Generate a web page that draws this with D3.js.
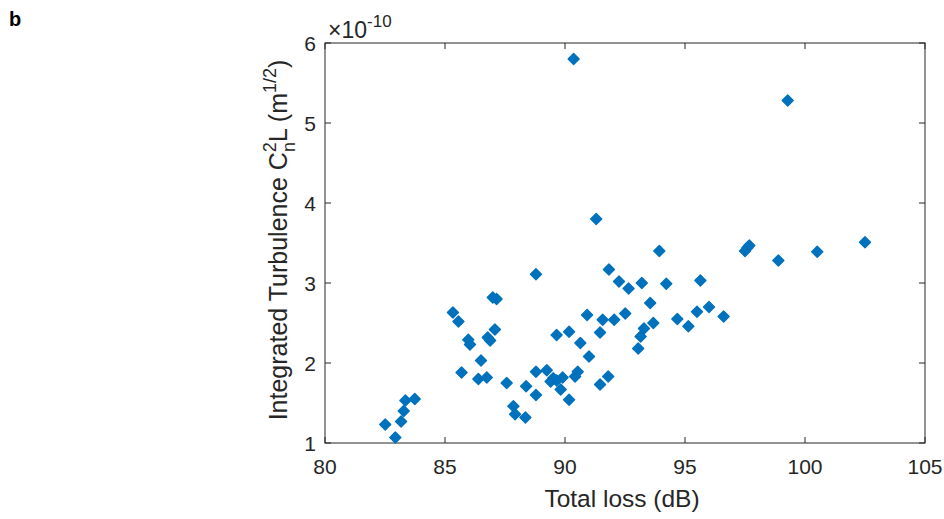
<!DOCTYPE html>
<html>
<head>
<meta charset="utf-8">
<script src="https://cdn.jsdelivr.net/npm/d3@7"></script>
<style>
  body { margin: 0; background: #fff; }
  svg { display: block; font-family: "Liberation Sans", Arial, sans-serif; }
</style>
</head>
<body>
<svg id="chart" width="944" height="519"></svg>
<script>
// total loss (dB) and integrated turbulence (units of 1e-10 m^1/2)
const totalLoss = [
  82.51, 82.93, 83.17, 83.28, 83.35, 83.74, 85.33, 85.56, 85.69, 85.97,
  86.04, 86.39, 86.50, 86.74, 86.78, 86.88, 86.99, 87.15, 87.08, 87.57,
  87.85, 87.92, 88.35, 88.38, 88.79, 88.79, 88.79, 89.24, 89.40, 89.51,
  89.65, 89.90, 89.82, 89.65, 90.17, 90.17, 90.42, 90.53, 90.36, 90.64,
  90.92, 91.00, 91.46, 91.46, 91.80, 91.57, 91.83, 92.05, 92.25, 91.30,
  92.51, 92.65, 93.05, 93.15, 93.29, 93.20, 93.55, 93.68, 93.93, 94.22,
  94.68, 95.14, 95.50, 95.64, 96.00, 96.61, 97.50, 97.60, 97.68, 98.89,
  99.28, 100.51, 102.50
]
const turbulence = [
  1.23, 1.07, 1.27, 1.40, 1.53, 1.55, 2.63, 2.52, 1.88, 2.29,
  2.23, 1.80, 2.03, 1.82, 2.32, 2.28, 2.82, 2.80, 2.42, 1.75,
  1.46, 1.36, 1.32, 1.71, 3.11, 1.89, 1.60, 1.91, 1.77, 1.81,
  1.78, 1.82, 1.67, 2.35, 2.39, 1.54, 1.83, 1.89, 5.80, 2.25,
  2.60, 2.08, 2.38, 1.73, 1.83, 2.54, 3.17, 2.54, 3.02, 3.80,
  2.62, 2.93, 2.18, 2.33, 2.43, 3.00, 2.75, 2.50, 3.40, 2.99,
  2.55, 2.46, 2.64, 3.03, 2.70, 2.58, 3.40, 3.44, 3.47, 3.28,
  5.28, 3.39, 3.51
]
const xTicks = [80, 85, 90, 95, 100, 105]
const yTicks = [1, 2, 3, 4, 5, 6]

const points = totalLoss.map((x, i) => ({ x: x, y: turbulence[i] }))

const svg = d3.select('#chart')
const plotL = 325, plotR = 925, plotT = 43, plotB = 443
const ink = '#262626'

const x = d3.scaleLinear().domain([80, 105]).range([plotL, plotR])
const y = d3.scaleLinear().domain([1, 6]).range([plotB, plotT])

// box + inward ticks on all four sides
const tickLen = 6
const axes = svg.append('g').attr('stroke', ink).attr('stroke-width', 1).attr('fill', 'none')
axes.append('rect')
  .attr('x', plotL).attr('y', plotT)
  .attr('width', plotR - plotL).attr('height', plotB - plotT)
xTicks.forEach(t => {
  axes.append('line').attr('x1', x(t)).attr('x2', x(t)).attr('y1', plotB).attr('y2', plotB - tickLen)
  axes.append('line').attr('x1', x(t)).attr('x2', x(t)).attr('y1', plotT).attr('y2', plotT + tickLen)
})
yTicks.forEach(t => {
  axes.append('line').attr('x1', plotL).attr('x2', plotL + tickLen).attr('y1', y(t)).attr('y2', y(t))
  axes.append('line').attr('x1', plotR).attr('x2', plotR - tickLen).attr('y1', y(t)).attr('y2', y(t))
})

// tick labels
svg.append('g').selectAll('text')
  .data(xTicks).enter().append('text')
  .attr('x', d => x(d)).attr('y', plotB + 31)
  .attr('text-anchor', 'middle')
  .attr('font-size', 21).attr('fill', ink)
  .text(d => d)

svg.append('g').selectAll('text')
  .data(yTicks).enter().append('text')
  .attr('x', plotL - 9).attr('y', d => y(d) + 7.5)
  .attr('text-anchor', 'end')
  .attr('font-size', 21).attr('fill', ink)
  .text(d => d)

// exponent label
const expo = svg.append('text')
  .attr('x', plotL + 3).attr('y', 38)
  .attr('font-size', 23).attr('fill', ink)
expo.append('tspan').text('\u00d710')
expo.append('tspan').attr('dy', -11).attr('font-size', 17).text('-10')

// axis titles
svg.append('text')
  .attr('x', (plotL + plotR) / 2 - 3).attr('y', 507)
  .attr('text-anchor', 'middle')
  .attr('font-size', 24.5).attr('fill', ink)
  .text('Total loss (dB)')

const yl = svg.append('text')
  .attr('transform', 'translate(287,240) rotate(-90)')
  .attr('text-anchor', 'middle')
  .attr('font-size', 25).attr('fill', ink)
yl.append('tspan').text('Integrated Turbulence C')
yl.append('tspan').attr('font-size', 18).attr('dy', -11).text('2')
yl.append('tspan').attr('font-size', 18).attr('dx', -10).attr('dy', 19).text('n')
yl.append('tspan').attr('dy', -8).text('L (m')
yl.append('tspan').attr('font-size', 18).attr('dy', -11).text('1/2')
yl.append('tspan').attr('dy', 11).text(')')

// panel letter
svg.append('text')
  .attr('x', 9).attr('y', 26)
  .attr('font-size', 20).attr('font-weight', 'bold').attr('fill', '#000')
  .text('b')

// diamonds (rotated squares)
const diamond = 'M 0 -5.5 L 5.5 0 L 0 5.5 L -5.5 0 Z'
svg.append('g').selectAll('path')
  .data(points).enter().append('path')
  .attr('d', diamond)
  .attr('transform', d => `translate(${x(d.x)},${y(d.y)})`)
  .attr('fill', '#0072BD')
  .attr('stroke', '#0072BD')
  .attr('stroke-width', 1.4)
  .attr('stroke-linejoin', 'round')
</script>
</body>
</html>
